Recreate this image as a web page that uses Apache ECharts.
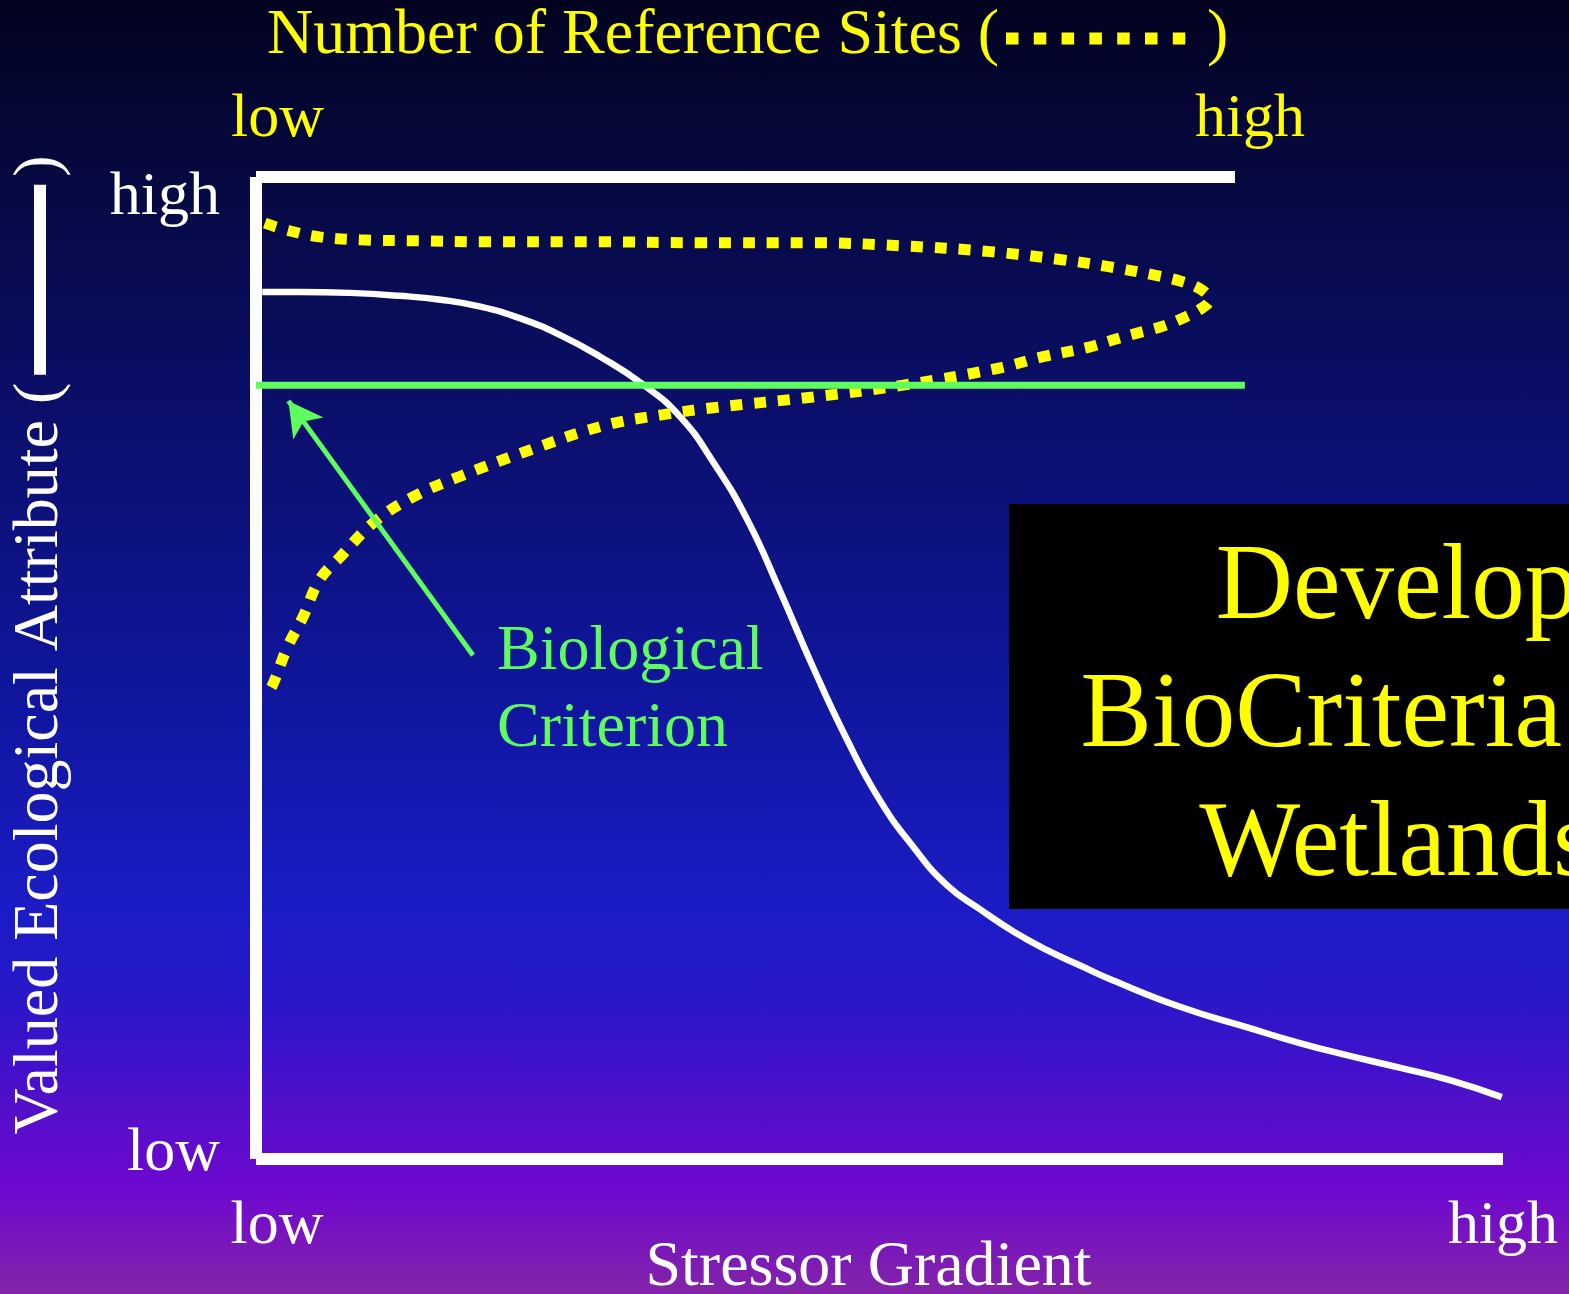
<!DOCTYPE html>
<html lang="en">
<head>
    <meta charset="UTF-8">
    <title>Developing BioCriteria for Wetlands</title>
    <script src="https://cdn.jsdelivr.net/npm/echarts@6/dist/echarts.min.js"></script>
    <style>
        html, body { margin: 0; padding: 0; }
        #main {
            width: 1569px;
            height: 1294px;
            background: linear-gradient(to bottom, #030320 0%, #070a48 17%, #10169e 54%, #1b1cc5 70%, #2818c8 77%, #4410cc 83%, #5010c8 85%, #6e08d0 92%, #8424a8 100%);
        }
    </style>
</head>
<body>
<div id="main"></div>
<script>
// stressor gradient (0-100) vs valued ecological attribute (0-100)
var stressorX  = [0.5, 3.5, 7.5, 11.5, 14.8, 18.0, 21.2, 24.4, 27.6, 31.0, 34.0, 36.7, 39.4, 42.0, 44.7, 47.4, 50.0, 52.7, 55.4, 58.1, 60.7, 63.4, 66.1, 68.7, 74.1, 79.5, 83.7, 87.7, 91.7, 95.8, 99.9];
var attributeY = [88.3, 88.3, 88.2, 87.9, 87.5, 86.8, 85.6, 83.9, 81.7, 78.9, 75.6, 70.9, 65.1, 57.9, 50.0, 42.7, 36.6, 31.8, 27.9, 25.4, 23.2, 21.3, 19.7, 18.2, 15.5, 13.4, 11.8, 10.5, 9.3, 8.0, 6.3];

// number of reference sites (0-100) along the attribute axis
var sitesX = [0.9, 3.5, 6.5, 10.6, 16.8, 22.9, 35.1, 45.3, 56.9, 65.8, 75.0, 82.1, 86.9, 91.8, 94.4, 96.6, 97.4, 96.7, 94.6, 92.3, 90.0, 87.5, 85.2, 80.4, 75.7, 66.1, 56.9, 46.7, 41.6, 35.6, 28.0, 20.8, 16.0, 12.0, 8.6, 6.5, 4.8, 3.2, 1.7, 0.9];
var sitesY = [95.3, 94.5, 93.9, 93.6, 93.5, 93.4, 93.4, 93.3, 93.3, 93.0, 92.4, 91.6, 90.9, 90.0, 89.4, 88.5, 87.5, 86.7, 85.6, 84.7, 84.1, 83.4, 82.7, 81.7, 80.5, 78.8, 77.6, 76.5, 75.8, 74.7, 72.2, 69.5, 67.4, 64.8, 61.3, 59.0, 55.2, 52.1, 48.3, 47.0];

// biological criterion level and its extent along the stressor axis
var criterionY = 78.8;
var criterionX = [0, 79.3];
// pointer from the label to the criterion line
var arrowFrom = [17.4, 51.3];
var arrowTo = [2.6, 77.2];

var tickLabels = ['low', 'high'];

var serif = '"Liberation Serif", "Times New Roman", serif';
var yellow = '#ffff00';
var green = '#5efc5e';

function pairs(xs, ys) {
    return xs.map(function (x, i) { return [x, ys[i]]; });
}

function lowHigh(v) {
    return v === 0 ? '{lo|' + tickLabels[0] + '}' : '{hi|' + tickLabels[1] + '}';
}

var myChart = echarts.init(document.getElementById('main'));

var option = {
    backgroundColor: 'transparent',
    animation: false,
    grid: [
        { left: 256, top: 177, width: 1247, height: 982, containLabel: false, outerBoundsMode: 'none' },
        { left: 256, top: 177, width: 979, height: 982, containLabel: false, outerBoundsMode: 'none' }
    ],
    xAxis: [
        {
            gridIndex: 0, type: 'value', min: 0, max: 100, interval: 100, position: 'bottom',
            axisLine: { onZero: false, lineStyle: { color: '#fff', width: 12, cap: 'butt' } },
            axisTick: { show: false }, splitLine: { show: false },
            axisLabel: {
                margin: 37,
                formatter: lowHigh,
                rich: {
                    lo: { fontFamily: serif, fontSize: 62, color: '#fff', padding: [0, 0, 0, 42] },
                    hi: { fontFamily: serif, fontSize: 62, color: '#fff' }
                }
            },
            name: 'Stressor Gradient', nameLocation: 'middle', nameGap: 77, nameMoveOverlap: false,
            nameTextStyle: { fontFamily: serif, fontSize: 64, color: '#fff', padding: [0, 22, 0, 0] }
        },
        {
            gridIndex: 1, type: 'value', min: 0, max: 100, interval: 100, position: 'top',
            axisLine: { onZero: false, lineStyle: { color: '#fff', width: 12, cap: 'butt' } },
            axisTick: { show: false }, splitLine: { show: false },
            axisLabel: {
                margin: 26,
                formatter: lowHigh,
                rich: {
                    lo: { fontFamily: serif, fontSize: 62, color: yellow, padding: [0, 0, 0, 43] },
                    hi: { fontFamily: serif, fontSize: 62, color: yellow, padding: [0, 0, 0, 30] }
                }
            }
        }
    ],
    yAxis: [
        {
            gridIndex: 0, type: 'value', min: 0, max: 100, interval: 100,
            axisLine: { onZero: false, lineStyle: { color: '#fff', width: 12, cap: 'butt' } },
            axisTick: { show: false }, splitLine: { show: false },
            axisLabel: {
                margin: 36,
                formatter: lowHigh,
                rich: {
                    lo: { fontFamily: serif, fontSize: 62, color: '#fff', padding: [0, 0, 10, 0] },
                    hi: { fontFamily: serif, fontSize: 62, color: '#fff', padding: [42, 0, 0, 0] }
                }
            },
            name: '{t|Valued Ecological Attribute (}{sp| }{bar| }{sp| }{t|)}',
            nameLocation: 'middle', nameRotate: 90, nameGap: 184, nameMoveOverlap: false,
            nameTextStyle: {
                padding: [0, 0, 0, 46],
                rich: {
                    t: { fontFamily: serif, fontSize: 64, color: '#fff' },
                    sp: { width: 8, fontSize: 64 },
                    bar: { width: 190, height: 12, backgroundColor: '#fff' }
                }
            }
        },
        { gridIndex: 1, type: 'value', min: 0, max: 100, show: false }
    ],
    series: [
        {
            name: 'Valued Ecological Attribute',
            type: 'line', xAxisIndex: 0, yAxisIndex: 0,
            data: pairs(stressorX, attributeY),
            smooth: 0.5, symbol: 'none', silent: true,
            lineStyle: { color: '#fff', width: 6.5 }
        },
        {
            name: 'Number of Reference Sites',
            type: 'line', xAxisIndex: 1, yAxisIndex: 1,
            data: pairs(sitesX, sitesY),
            smooth: 0.4, symbol: 'none', silent: true,
            lineStyle: { color: yellow, width: 11, type: [12, 12], cap: 'butt' }
        },
        {
            name: 'Biological Criterion',
            type: 'line', xAxisIndex: 0, yAxisIndex: 0,
            data: criterionX.map(function (x) { return [x, criterionY]; }),
            symbol: 'none', silent: true,
            lineStyle: { color: green, width: 7 },
            markLine: {
                silent: true,
                symbol: ['none', 'arrow'],
                symbolSize: [28, 34],
                label: { show: false },
                lineStyle: { color: green, width: 5, type: 'solid' },
                data: [[{ coord: arrowFrom }, { coord: arrowTo }]]
            }
        }
    ],
    graphic: [
        {
            type: 'text', left: 267, top: 4, z: 10,
            style: { text: 'Number of Reference Sites (', font: '64px ' + serif, fill: yellow }
        },
        {
            type: 'line', z: 10,
            shape: { x1: 1006, y1: 38.5, x2: 1186, y2: 38.5 },
            style: { stroke: yellow, lineWidth: 12, lineDash: [12.5, 15.3] }
        },
        {
            type: 'text', left: 1207, top: 4, z: 10,
            style: { text: ')', font: '64px ' + serif, fill: yellow }
        },
        {
            type: 'text', z: 10, x: 497, y: 691,
            style: {
                text: 'Biological\nCriterion', font: '64px ' + serif, fill: green,
                lineHeight: 77, textVerticalAlign: 'middle', textAlign: 'left'
            }
        },
        {
            type: 'rect', z: 10,
            shape: { x: 1009, y: 504, width: 600, height: 405 },
            style: { fill: '#000' }
        },
        {
            type: 'text', z: 11, x: 1397, y: 590,
            style: { text: 'Develop', font: '107px ' + serif, fill: yellow, textAlign: 'center', textVerticalAlign: 'middle' }
        },
        {
            type: 'text', z: 11, x: 1397, y: 718,
            style: { text: 'BioCriteria for', font: '107px ' + serif, fill: yellow, textAlign: 'center', textVerticalAlign: 'middle' }
        },
        {
            type: 'text', z: 11, x: 1397, y: 847,
            style: { text: 'Wetlands', font: '107px ' + serif, fill: yellow, textAlign: 'center', textVerticalAlign: 'middle' }
        }
    ]
};

myChart.setOption(option);
</script>
</body>
</html>
